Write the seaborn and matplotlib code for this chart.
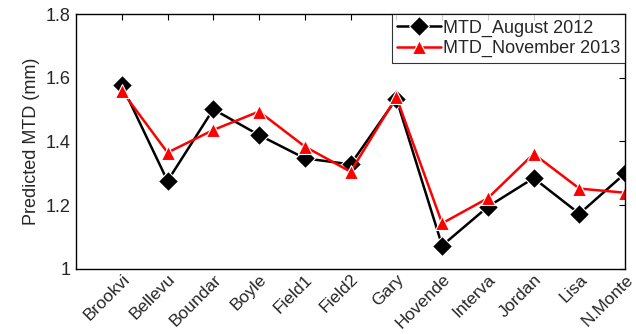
import matplotlib
matplotlib.use("Agg")
import matplotlib.pyplot as plt
import seaborn as sns
import pandas as pd

# ---------------------------------------------------------------------------
# Data
# ---------------------------------------------------------------------------
sites = ["Brookvi", "Bellevu", "Boundar", "Boyle", "Field1", "Field2",
         "Gary", "Hovende", "Interva", "Jordan", "Lisa", "N.Monte"]
mtd_aug_2012 = [1.577, 1.276, 1.501, 1.420, 1.347, 1.328,
                1.534, 1.073, 1.195, 1.285, 1.173, 1.300]
mtd_nov_2013 = [1.559, 1.365, 1.436, 1.494, 1.384, 1.305,
                1.539, 1.143, 1.222, 1.361, 1.252, 1.239]
series_names = ["MTD_August 2012", "MTD_November 2013"]
y_ticks = [1, 1.2, 1.4, 1.6, 1.8]

positions = list(range(1, len(sites) + 1))
df = pd.concat([
    pd.DataFrame({"pos": positions, "site": sites, "value": mtd_aug_2012,
                  "series": series_names[0]}),
    pd.DataFrame({"pos": positions, "site": sites, "value": mtd_nov_2013,
                  "series": series_names[1]}),
])

sns.set_style("white")
plt.rcParams["font.family"] = ["Liberation Sans", "DejaVu Sans"]

fig = plt.figure(figsize=(6.36, 3.34), dpi=100)
ax = fig.add_axes([0.1195, 0.195, 0.8635, 0.763])

sns.lineplot(
    data=df, x="pos", y="value", hue="series", style="series",
    palette={series_names[0]: "black", series_names[1]: "red"},
    markers={series_names[0]: "D", series_names[1]: "^"},
    dashes=False, markersize=10, linewidth=1.8, markeredgewidth=0.8,
    ax=ax,
)

ax.set_xlim(0, 12)
ax.set_ylim(1, 1.8)
ax.set_xticks(positions)
ax.set_xticklabels(sites, rotation=45, ha="right", rotation_mode="anchor",
                   fontsize=12.5)
ax.set_yticks(y_ticks)
ax.set_yticklabels(["1", "1.2", "1.4", "1.6", "1.8"], fontsize=13)
ax.set_xlabel("")
ax.set_ylabel("Predicted MTD (mm)", fontsize=13)
ax.tick_params(direction="in", top=True, right=True, length=4, width=0.8,
               color="black", pad=4)
ax.tick_params(axis="x", pad=2)
for spine in ax.spines.values():
    spine.set_color("black")
    spine.set_linewidth(1.0)

leg = ax.legend(loc="upper right", fontsize=13, frameon=True, fancybox=False,
                borderaxespad=0, handlelength=2.4, borderpad=0.3,
                labelspacing=0.2, handletextpad=0.1)
leg.get_frame().set_edgecolor("black")
leg.get_frame().set_linewidth(0.8)

fig.savefig("out.png", dpi=100)
